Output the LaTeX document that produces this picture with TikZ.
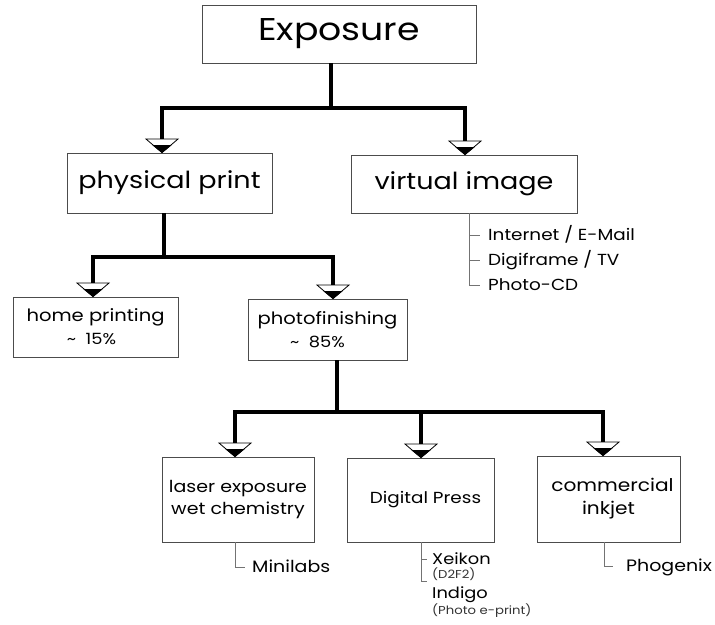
\documentclass[tikz,border=0pt]{standalone}
\usepackage{fontspec}
\setmainfont{Poppins}[FakeStretch=1.15]
\usetikzlibrary{calc}
\begin{document}
\begin{tikzpicture}[x=1pt,y=-1pt,
  box/.style={draw=black!70, line width=0.9pt, inner sep=0pt, align=center},
  conn/.style={line width=4pt, line join=miter},
  subline/.style={draw=black!55, line width=0.9pt},
  item/.style={anchor=west, inner xsep=7pt, inner ysep=0pt,
    font=\fontsize{16}{18}\selectfont, text height=11.5pt, text depth=0pt},
  small/.style={anchor=north west, inner sep=0pt, font=\fontsize{11.5}{12}\selectfont, text=black!80},
  tipouter/.style={fill=white, draw=black, line width=0.8pt, line join=miter},
  tipinner/.style={fill=black, draw=black, line width=0.8pt, line join=miter}
]
\useasboundingbox (0,0) rectangle (715,624);

% boxes
\node[box, minimum width=274pt, minimum height=58pt, font=\fontsize{31.5}{33}\selectfont] (exp) at (339,34) {Exposure};
\node[box, minimum width=205pt, minimum height=60pt, font=\fontsize{23.5}{26}\selectfont] (pp) at (169.5,183) {physical print};
\node[box, minimum width=226pt, minimum height=58pt, font=\fontsize{23.5}{26}\selectfont] (vi) at (464,184) {virtual image};
\node[box, minimum width=165pt, minimum height=60pt, font=\fontsize{17}{23}\selectfont] (hp) at (95.5,327)
  {home printing\\\fontsize{15.5}{23}\selectfont\hspace*{-8pt}\textasciitilde\ \ 15\%};
\node[box, minimum width=159pt, minimum height=61pt, font=\fontsize{17}{23}\selectfont] (pf) at (327.5,329.5)
  {photofinishing\\\fontsize{15.5}{23}\selectfont\hspace*{-20pt}\textasciitilde\ \ 85\%};
\node[box, minimum width=152pt, minimum height=85pt, font=\fontsize{16.5}{22.5}\selectfont] (le) at (238,499.5)
  {laser exposure\\wet chemistry};
\node[box, minimum width=147pt, minimum height=84pt, font=\fontsize{16}{22}\selectfont] (dp) at (420.5,500)
  {\hspace*{10pt}Digital Press};
\node[box, minimum width=143pt, minimum height=86pt, font=\fontsize{17.5}{23}\selectfont] (ci) at (608.5,499)
  {\hspace*{8pt}commercial\\inkjet};

% junctions
\coordinate (j1) at (331,108);
\coordinate (l1) at (162,108);
\coordinate (r1) at (465,108);
\coordinate (j2) at (164,257);
\coordinate (l2) at (93,257);
\coordinate (r2) at (333,257);
\coordinate (j3) at (337,412);
\coordinate (l3) at (235,412);
\coordinate (m3) at (421,412);
\coordinate (r3) at (603,412);

% thick connectors
\draw[conn] (exp.south -| j1) -- (j1);
\draw[conn] ($(pp.north -| l1)+(0,-13)$) |- (j1) -| ($(vi.north -| r1)+(0,-13)$);
\draw[conn] (pp.south -| j2) -- (j2);
\draw[conn] ($(hp.north -| l2)+(0,-13)$) |- (j2) -| ($(pf.north -| r2)+(0,-13)$);
\draw[conn] (pf.south -| j3) -- (j3);
\draw[conn] ($(le.north -| l3)+(0,-13)$) |- (j3) -| ($(ci.north -| r3)+(0,-13)$);
\draw[conn] (m3) -- ($(dp.north -| m3)+(0,-13)$);

% arrow tips
\foreach \n/\c in {pp/l1, vi/r1, hp/l2, pf/r2, le/l3, dp/m3, ci/r3} {
  \coordinate (tp) at (\n.north -| \c);
  \path[tipouter] ($(tp)+(-16,-13.5)$) -- ($(tp)+(16,-13.5)$) -- (tp) -- cycle;
  \path[tipinner] ($(tp)+(-8.5,-7)$) -- ($(tp)+(8.5,-7)$) -- (tp) -- cycle;
}

% sub items: virtual image
\coordinate (vx) at (469,0);
\node[item, inner xsep=8pt] (inet) at (480,235) {Internet / E-Mail};
\node[item, inner xsep=8pt] (digi) at (480,260) {Digiframe / TV};
\node[item, inner xsep=8pt] (pcd) at (480,285) {Photo-CD};
\draw[subline] (vi.south -| vx) |- (pcd.west);
\draw[subline] (inet.west -| vx) -- (inet.west);
\draw[subline] (digi.west -| vx) -- (digi.west);

% Minilabs
\coordinate (lx) at (235,0);
\node[item, font=\fontsize{16.5}{18}\selectfont] (mini) at (245,567) {Minilabs};
\draw[subline] (le.south -| lx) |- (mini.west);

% Digital press items
\coordinate (dx) at (421,0);
\node[item, inner xsep=5pt, font=\fontsize{15.5}{18}\selectfont] (xei) at (427,559) {Xeikon};
\node[small] (d2f2) at (432,568) {(D2F2)};
\node[item, anchor=north west, inner xsep=5pt, inner ysep=6pt, font=\fontsize{15.5}{18}\selectfont] (indigo) at (427,581) {Indigo};
\node[small] (peprint) at (432,604) {(Photo e-print)};
\draw[subline] (dp.south -| dx) |- (indigo.north west);
\draw[subline] (xei.west -| dx) -- (xei.west);

% Phogenix
\coordinate (cx) at (604,0);
\node[item, inner xsep=13pt, font=\fontsize{16.5}{18}\selectfont] (phog) at (613,566) {Phogenix};
\draw[subline] (ci.south -| cx) |- (phog.west);
\end{tikzpicture}
\end{document}
